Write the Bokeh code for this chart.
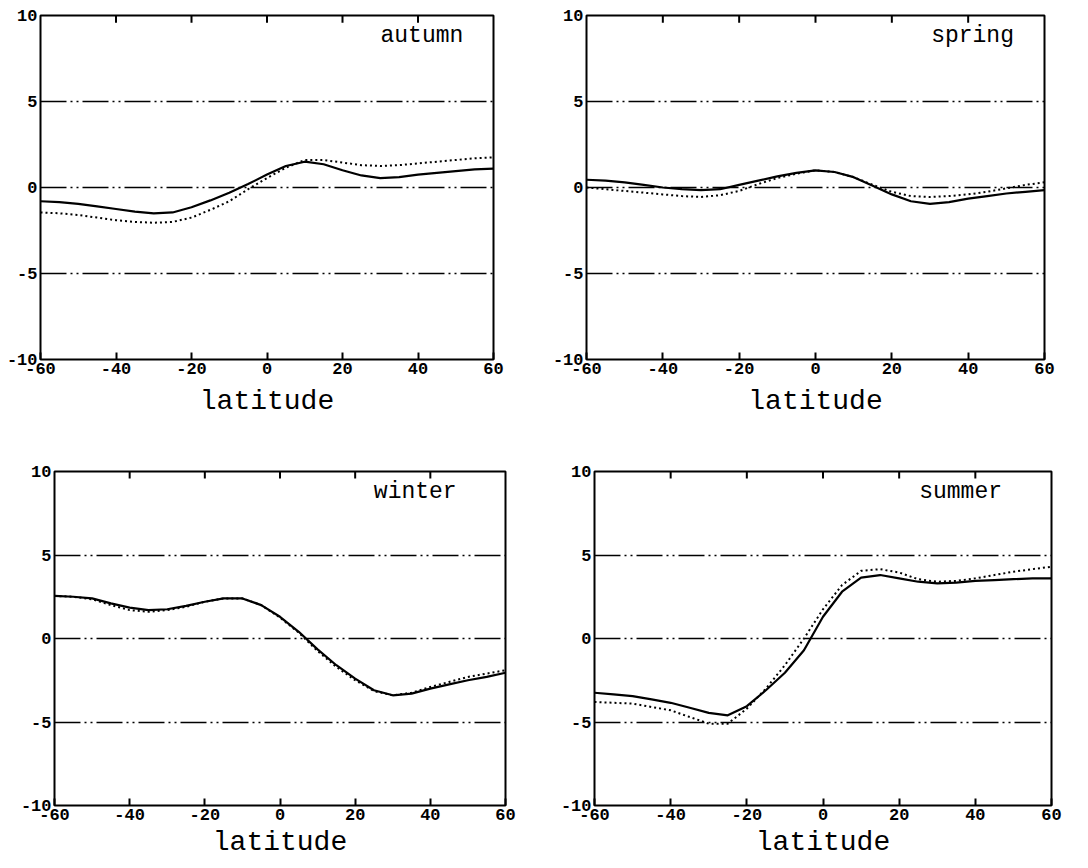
from bokeh.plotting import figure
from bokeh.models import Range1d, FixedTicker, Label
from bokeh.layouts import column, row
from bokeh.embed import file_html
from bokeh.resources import INLINE

# ---------------- data ----------------
latitude = [-60, -55, -50, -45, -40, -35, -30, -25, -20, -15, -10, -5, 0,
            5, 10, 15, 20, 25, 30, 35, 40, 45, 50, 55, 60]

autumn_solid = [-0.8, -0.85, -0.95, -1.1, -1.25, -1.4, -1.5, -1.45, -1.15, -0.75, -0.3, 0.2, 0.75,
                1.25, 1.5, 1.35, 1.0, 0.7, 0.55, 0.6, 0.75, 0.85, 0.95, 1.05, 1.1]
autumn_dotted = [-1.45, -1.5, -1.6, -1.75, -1.9, -2.0, -2.05, -2.0, -1.75, -1.3, -0.8, -0.1, 0.55,
                 1.15, 1.6, 1.6, 1.45, 1.3, 1.25, 1.3, 1.4, 1.5, 1.6, 1.7, 1.75]

spring_solid = [0.45, 0.4, 0.3, 0.15, 0.0, -0.1, -0.15, -0.1, 0.15, 0.4, 0.65, 0.85, 1.0,
                0.9, 0.6, 0.1, -0.4, -0.8, -0.95, -0.85, -0.65, -0.5, -0.35, -0.25, -0.15]
spring_dotted = [0.0, -0.1, -0.2, -0.3, -0.4, -0.5, -0.55, -0.45, -0.2, 0.2, 0.55, 0.8, 1.0,
                 0.9, 0.6, 0.15, -0.25, -0.5, -0.55, -0.5, -0.4, -0.25, -0.05, 0.15, 0.3]

winter_solid = [2.55, 2.5, 2.4, 2.1, 1.85, 1.7, 1.75, 1.95, 2.2, 2.4, 2.4, 2.0, 1.3,
                0.4, -0.65, -1.6, -2.4, -3.1, -3.4, -3.3, -3.0, -2.75, -2.5, -2.3, -2.05]
winter_dotted = [2.55, 2.5, 2.35, 2.0, 1.7, 1.6, 1.7, 1.9, 2.2, 2.4, 2.4, 2.0, 1.25,
                 0.35, -0.75, -1.7, -2.5, -3.15, -3.4, -3.25, -2.9, -2.6, -2.3, -2.1, -1.9]

summer_solid = [-3.25, -3.35, -3.45, -3.65, -3.85, -4.15, -4.45, -4.6, -4.05, -3.1, -2.05, -0.7, 1.3,
                2.8, 3.65, 3.8, 3.6, 3.4, 3.3, 3.35, 3.45, 3.5, 3.55, 3.6, 3.6]
summer_dotted = [-3.8, -3.85, -3.9, -4.1, -4.3, -4.7, -5.1, -5.1, -4.2, -3.0, -1.6, 0.0, 1.75,
                 3.2, 4.05, 4.15, 3.95, 3.55, 3.4, 3.45, 3.6, 3.8, 4.0, 4.15, 4.3]

x_ticks = [-60, -40, -20, 0, 20, 40, 60]
y_ticks = [-10, -5, 0, 5, 10]
ref_levels = [-5, 0, 5]
x_title = "latitude"

MONO = "Liberation Mono"
Y_MAX = 10
TOP_TICK = 0.42   # inward tick length on the top edge, in data units


def panel(name, solid, dotted, width, height, bl, br, bt, bb, label_x, title_gap):
    p = figure(width=width, height=height,
               x_range=Range1d(-60, 60), y_range=Range1d(-10, 10),
               output_backend="svg", toolbar_location=None,
               min_border_left=bl, min_border_right=br,
               min_border_top=bt, min_border_bottom=bb,
               background_fill_color="white", border_fill_color="white",
               outline_line_color="black", outline_line_width=2)
    # x axis (bottom)
    xa = p.xaxis[0]
    xa.ticker = FixedTicker(ticks=x_ticks)
    xa.major_label_overrides = {t: str(t) for t in x_ticks}
    xa.major_tick_in = 7
    xa.major_tick_out = 0
    xa.major_tick_line_width = 2
    xa.minor_tick_line_color = None
    xa.axis_line_color = None
    xa.major_label_text_font = MONO
    xa.major_label_text_font_style = "bold"
    xa.major_label_text_font_size = "17px"
    xa.major_label_text_color = "black"
    xa.major_label_standoff = 3
    xa.axis_label = x_title
    xa.axis_label_text_font = MONO
    xa.axis_label_text_font_style = "normal"
    xa.axis_label_text_font_size = "28px"
    xa.axis_label_text_color = "black"
    xa.axis_label_standoff = title_gap
    # y axis
    ya = p.yaxis[0]
    ya.ticker = FixedTicker(ticks=y_ticks)
    ya.major_label_overrides = {t: str(t) for t in y_ticks}
    ya.major_tick_in = 0
    ya.major_tick_out = 0
    ya.minor_tick_line_color = None
    ya.axis_line_color = None
    ya.major_label_text_font = MONO
    ya.major_label_text_font_style = "bold"
    ya.major_label_text_font_size = "17px"
    ya.major_label_text_color = "black"
    ya.major_label_standoff = 3
    # reference lines as grid
    p.xgrid.grid_line_color = None
    p.ygrid.ticker = FixedTicker(ticks=ref_levels)
    p.ygrid.grid_line_color = "black"
    p.ygrid.grid_line_width = 1.5
    p.ygrid.grid_line_dash = "26 4 2 4 2 4"
    p.ygrid.grid_line_alpha = 1.0
    # inward ticks on the top edge
    inner = x_ticks[1:-1]
    p.segment(x0=inner, y0=[Y_MAX] * len(inner), x1=inner,
              y1=[Y_MAX - TOP_TICK] * len(inner), line_color="black", line_width=2)
    # data
    p.line(latitude, solid, line_color="black", line_width=2.2, line_join="round")
    p.line(latitude, dotted, line_color="black", line_width=2, line_dash="2 3")
    p.add_layout(Label(x=label_x, y=8.8, text=name, text_align="right",
                       text_baseline="middle", text_font=MONO,
                       text_font_size="23px", text_color="black"))
    return p


p1 = panel("autumn", autumn_solid, autumn_dotted, 538, 436, 40, 45, 15, 77, 52, 9)
p2 = panel("spring", spring_solid, spring_dotted, 526, 436, 48, 20, 15, 77, 52, 9)
p3 = panel("winter", winter_solid, winter_dotted, 548, 430, 54, 43, 35, 61, 47, 4)
p4 = panel("summer", summer_solid, summer_dotted, 521, 430, 46, 18, 35, 61, 47, 4)

layout = column(row(p1, p2), row(p3, p4))
open("out.html", "w").write(file_html(layout, INLINE))
